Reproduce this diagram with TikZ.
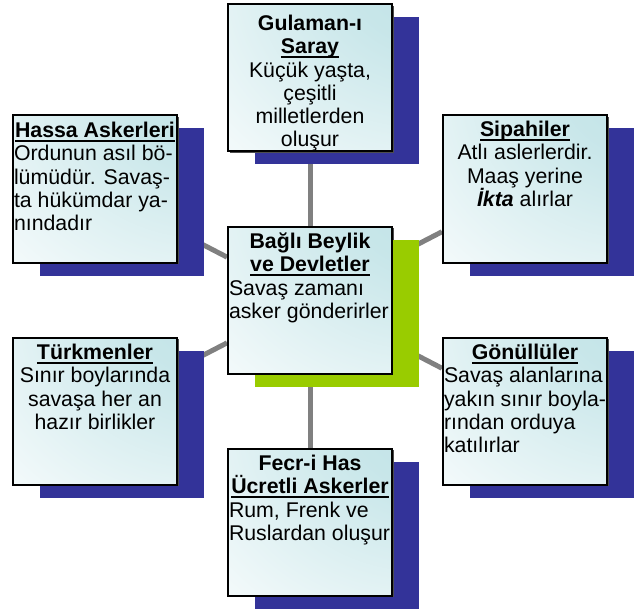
\documentclass[tikz,border=0pt]{standalone}
\usepackage{fontspec}
\setmainfont{Liberation Sans}
\usepackage{tikz}
\usetikzlibrary{shapes,positioning,shadows,backgrounds}
\usepackage{xcolor}
\definecolor{acikmavi}{RGB}{186,224,228}
\definecolor{koyumavi}{RGB}{51,51,153}
\definecolor{yesil}{RGB}{153,204,0}
\definecolor{gri}{RGB}{128,128,128}
\pgfdeclareradialshading{kose}{\pgfpoint{50bp}{50bp}}{color(0bp)=(acikmavi); color(30bp)=(acikmavi!80!white); color(70bp)=(acikmavi!20!white); color(95bp)=(white); color(150bp)=(white)}
\tikzstyle{kutu} = [draw=black, line width=2pt, shading=kose, minimum width=164pt, minimum height=147pt, inner sep=1pt, font=\fontsize{21.3}{23.3}\selectfont, drop shadow={shadow xshift=27pt, shadow yshift=-13pt, fill=koyumavi, opacity=1}, general shadow={shadow xshift=1.5pt, shadow yshift=-1.5pt, fill=gri!60!black}]
\tikzstyle{merkez} = [kutu, drop shadow={shadow xshift=27pt, shadow yshift=-13pt, fill=yesil, opacity=1}]
\tikzstyle{bag} = [line width=5pt, color=gri]
\newcommand{\cizgili}[1]{\setbox0\hbox{#1}\leavevmode\rlap{\vrule height -2.5pt depth 4.5pt width \wd0}\box0}

\begin{document}
\begin{tikzpicture}[x=1pt, y=-1pt]
\useasboundingbox (0,0) rectangle (644,612);

% Center box
\node[merkez] (bagli) at (310,300) {\parbox[c][138pt][t]{162pt}{\vspace*{2pt}\raggedright
  {\centering\textbf{Bağlı Beylik}\\\textbf{\cizgili{ve Devletler}}\par}
  Savaş zamanı\\asker gönderirler}};

% Outer boxes
\node[kutu] (gulaman) at (310,78) {\parbox[c][138pt][t]{162pt}{\vspace*{6pt}\centering
  \textbf{Gulaman-ı}\\\textbf{\cizgili{Saray}}\\Küçük yaşta,\\çeşitli\\milletlerden\\oluşur}};
\node[kutu] (hassa) at (95,189) {\parbox[c][138pt][t]{162pt}{\vspace*{2pt}\raggedright
  {\centering\textbf{\cizgili{Hassa Askerleri}}\par}
  Ordunun asıl bö-\\lümüdür. Savaş-\\ta hükümdar ya-\\nındadır}};
\node[kutu] (sipahi) at (525,189) {\parbox[c][138pt][t]{162pt}{\vspace*{1pt}\centering
  \textbf{\cizgili{Sipahiler}}\\Atlı aslerlerdir.\\Maaş yerine\\\textbf{\textit{İkta}} alırlar}};
\node[kutu] (turkmen) at (95,411) {\parbox[c][138pt][t]{162pt}{\vspace*{2pt}\centering
  \textbf{\cizgili{Türkmenler}}\\Sınır boylarında\\savaşa her an\\hazır birlikler}};
\node[kutu] (gonullu) at (525,411) {\parbox[c][138pt][t]{162pt}{\vspace*{2pt}\raggedright
  {\centering\textbf{\cizgili{Gönüllüler}}\par}
  Savaş alanlarına\\yakın sınır boyla-\\rından orduya\\katılırlar}};
\node[kutu] (fecri) at (310,522) {\parbox[c][138pt][t]{162pt}{\vspace*{2pt}\raggedright
  {\centering\textbf{Fecr-i Has}\\\textbf{\cizgili{Ücretli Askerler}}\par}
  Rum, Frenk ve\\Ruslardan oluşur}};

% Connectors
\begin{scope}[on background layer]
\draw[bag] (bagli) -- (gulaman);
\draw[bag] (bagli) -- (hassa);
\draw[bag] (bagli) -- (sipahi);
\draw[bag] (bagli) -- (turkmen);
\draw[bag] (bagli) -- (gonullu);
\draw[bag] (bagli) -- (fecri);
\end{scope}
\end{tikzpicture}
\end{document}
